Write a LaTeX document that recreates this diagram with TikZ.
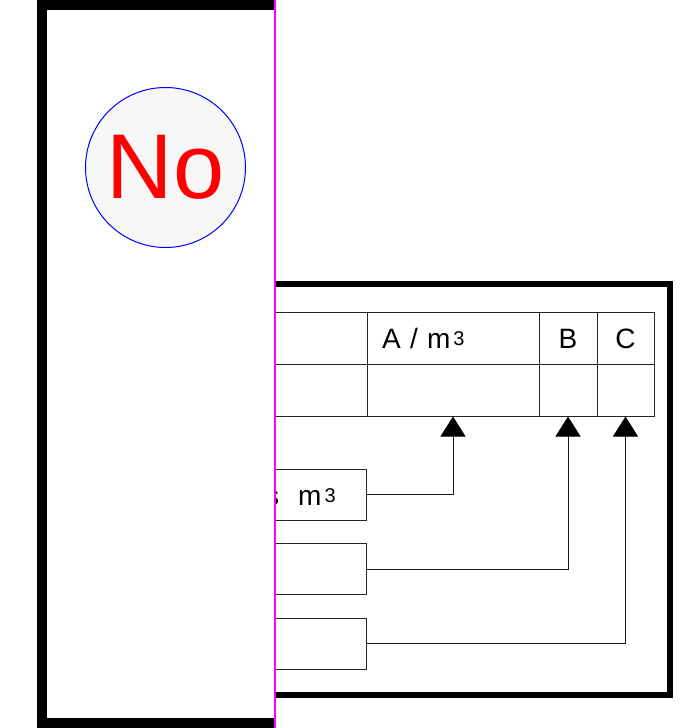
\documentclass[tikz,border=0pt]{standalone}
\usepackage{fontspec}
\setmainfont{Liberation Sans}
\usetikzlibrary{arrows.meta}

\definecolor{panelpink}{RGB}{255,0,255}
\newcommand{\mcube}{\hspace{3pt}\raisebox{3pt}{\fontsize{20}{20}\selectfont 3}}

\tikzset{
	cell/.style={draw=black!85, line width=1pt, minimum height=52pt, inner sep=0pt, text height=20pt, text depth=0pt, font=\fontsize{28}{28}\selectfont},
	inbox/.style={draw=black!85, line width=1pt, minimum width=166pt, minimum height=51pt, inner sep=0pt},
	link/.style={draw=black!90, line width=1pt, -{Triangle[width=25pt,length=20pt,fill=black,color=black]}},
}

\begin{document}
\begin{tikzpicture}[x=1pt, y=-1pt]
	\useasboundingbox (0,0) rectangle (686,728);
	
	%outer frame on the right
	\draw[line width=6pt] (270,284) rectangle (670,695);
	
	%table
	\node[cell, minimum width=167pt] (headL) at (283.5,338) {};
	\node[cell, minimum width=172pt, text width=142pt, inner xsep=15pt, align=left] (headA) at (453,338) {A / m\mcube};
	\node[cell, minimum width=58pt] (headB) at (568,338) {B};
	\node[cell, minimum width=57pt] (headC) at (625.5,338) {C};
	\node[cell, minimum width=167pt] (valL) at (283.5,390) {};
	\node[cell, minimum width=172pt] (valA) at (453,390) {};
	\node[cell, minimum width=58pt] (valB) at (568,390) {};
	\node[cell, minimum width=57pt] (valC) at (625.5,390) {};
	
	%input boxes
	\node[inbox] (inA) at (283,494.5) {};
	\node[anchor=base west, inner sep=0pt, font=\fontsize{28}{28}\selectfont] (unitA) at (265,505) {s\hspace{19pt}m\mcube};
	\node[inbox] (inB) at (283,569) {};
	\node[inbox] (inC) at (283,643.5) {};
	
	%connectors
	\draw[link] (inA.east) -| (valA.south);
	\draw[link] (inB.east) -| (valB.south);
	\draw[link] (inC.east) -| (valC.south);
	
	%panel on the left
	\fill[white] (37,0) rectangle (275,728);
	\draw[line width=10pt] (275,5) -- (42,5) -- (42,723) -- (275,723);
	\draw[panelpink, line width=1.5pt] (275,0) -- (275,728);
	\node[circle, draw=blue, line width=1pt, fill=black!3, minimum size=160pt, inner sep=0pt, text=red, font=\fontsize{92}{92}\selectfont] (no) at (165.5,167.5) {No};
	
\end{tikzpicture}
\end{document}
